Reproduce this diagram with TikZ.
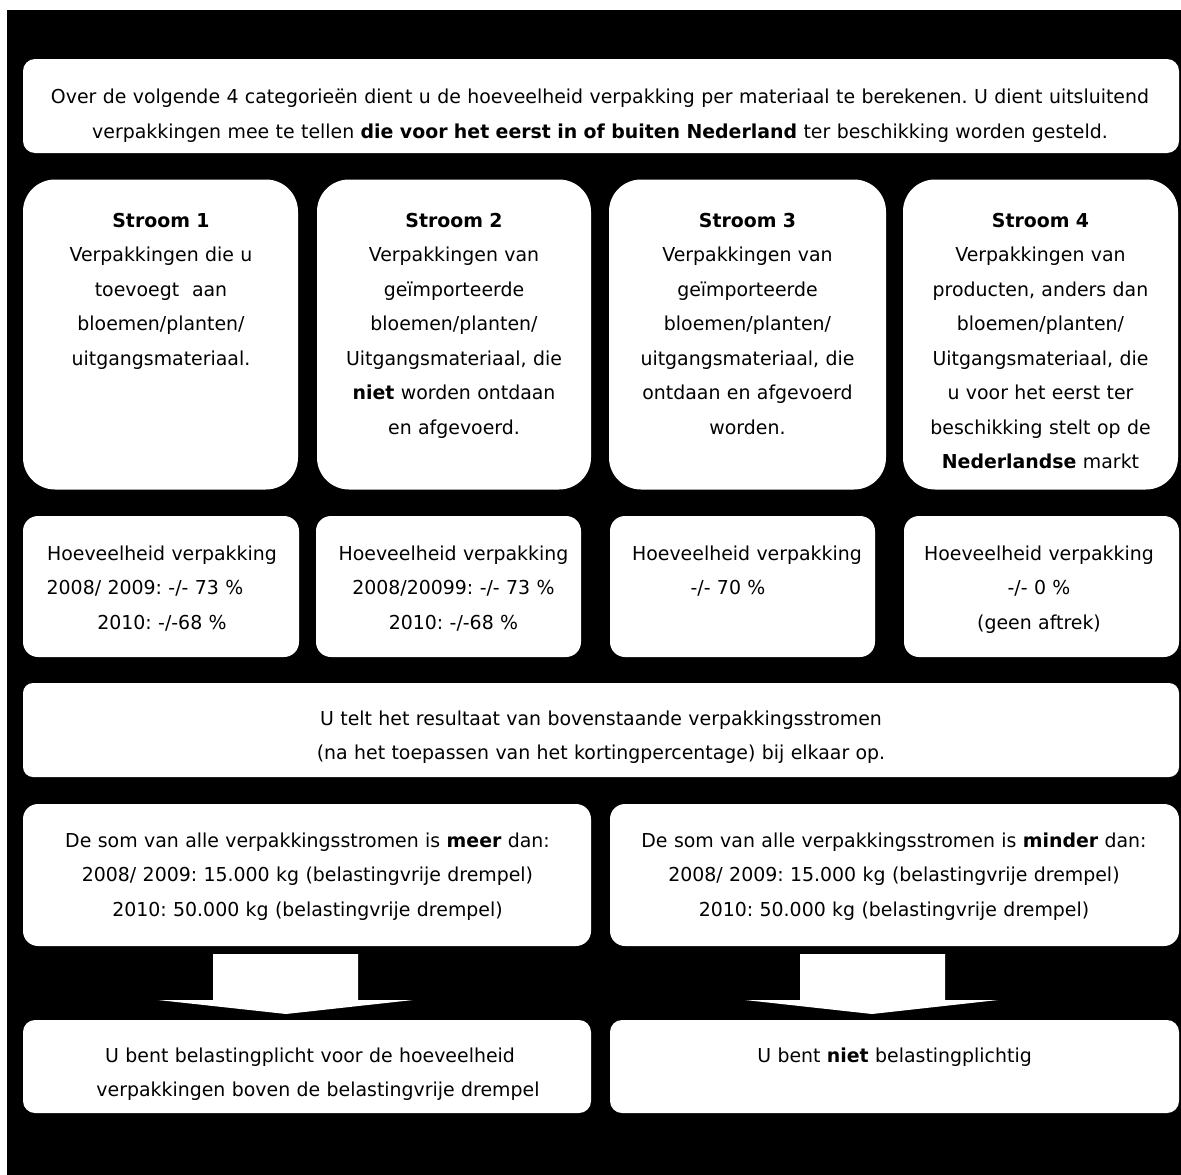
\documentclass[tikz,border=0pt]{standalone}
\usepackage{fontspec}
\setmainfont{DejaVu Sans}[FakeStretch=0.985]
\frenchspacing
\newcommand\fsz{\fontsize{19.2}{34.5}\selectfont\frenchspacing}
\tikzset{
  card/.style={fill=white, draw=none, inner sep=0pt, rounded corners=#1},
  card/.default=12pt,
  txt/.style={anchor=base, inner sep=0pt, align=center, text width=#1, font=\fsz},
  txt/.default=260pt,
  blockarrow/.style={fill=white, draw=none},
}
\begin{document}
\begin{tikzpicture}[x=1pt,y=-1pt]
\useasboundingbox (0,0) rectangle (1181,1175);
\fill[white] (0,0) rectangle (1181,1175);
\fill[black] (7,10) rectangle (1181,1175);

% top box
\node[card=12pt, minimum width=1156pt, minimum height=94pt] (top) at (601,106) {};
\node[txt=1150pt] (topT) at (600,103.5) {Over de volgende 4 categorieën dient u de hoeveelheid verpakking per materiaal te berekenen. U dient uitsluitend\\verpakkingen mee te tellen \textbf{die voor het eerst in of buiten Nederland} ter beschikking worden gesteld.};

% Stroom boxes
\node[card=32pt, minimum width=275pt, minimum height=310pt] (s1) at (160.5,334.5) {};
\node[card=32pt, minimum width=274pt, minimum height=310pt] (s2) at (454,334.5) {};
\node[card=32pt, minimum width=277pt, minimum height=310pt] (s3) at (747.5,334.5) {};
\node[card=32pt, minimum width=275pt, minimum height=310pt] (s4) at (1040.5,334.5) {};

\node[txt] (s1T) at (161,227) {\textbf{Stroom 1}\\Verpakkingen die u\\toevoegt\ \ aan\\bloemen/planten/\\uitgangsmateriaal.};
\node[txt] (s2T) at (454,227) {\textbf{Stroom 2}\\Verpakkingen van\\geïmporteerde\\bloemen/planten/\\Uitgangsmateriaal, die\\\textbf{niet} worden ontdaan\\en afgevoerd.};
\node[txt] (s3T) at (747.5,227) {\textbf{Stroom 3}\\Verpakkingen van\\geïmporteerde\\bloemen/planten/\\uitgangsmateriaal, die\\ontdaan en afgevoerd\\worden.};
\node[txt] (s4T) at (1040.5,227) {\textbf{Stroom 4}\\Verpakkingen van\\producten, anders dan\\bloemen/planten/\\Uitgangsmateriaal, die\\u voor het eerst ter\\beschikking stelt op de\\\textbf{Nederlandse} markt};

% Hoeveelheid boxes
\node[card=15pt, minimum width=276pt, minimum height=141pt] (h1) at (161,586.5) {};
\node[card=15pt, minimum width=265pt, minimum height=141pt] (h2) at (448.5,586.5) {};
\node[card=15pt, minimum width=265pt, minimum height=141pt] (h3) at (742.5,586.5) {};
\node[card=15pt, minimum width=275pt, minimum height=141pt] (h4) at (1041.5,586.5) {};

\node[txt] (h1T) at (162,560) {Hoeveelheid verpakking\\2008/ 2009: -/- 73 \%\hspace*{34pt}\mbox{}\\2010: -/-68 \%};
\node[txt] (h2T) at (453.5,560) {Hoeveelheid verpakking\\2008/20099: -/- 73 \%\\2010: -/-68 \%};
\node[txt] (h3T) at (747,560) {Hoeveelheid verpakking\\-/- 70 \%\hspace*{38pt}\mbox{}};
\node[txt] (h4T) at (1039,560) {Hoeveelheid verpakking\\-/- 0 \%\\(geen aftrek)};

% sum box
\node[card=10pt, minimum width=1156pt, minimum height=94pt] (sum) at (601,730) {};
\node[txt=1100pt] (sumT) at (601,725) {U telt het resultaat van bovenstaande verpakkingsstromen\\(na het toepassen van het kortingpercentage) bij elkaar op.};

% meer / minder boxes
\node[card=15pt, minimum width=568pt, minimum height=142pt] (m1) at (307,875) {};
\node[card=15pt, minimum width=569pt, minimum height=142pt] (m2) at (894.5,875) {};
\node[txt=560pt] (m1T) at (307.5,847) {De som van alle verpakkingsstromen is \textbf{meer} dan:\\2008/ 2009: 15.000 kg (belastingvrije drempel)\\2010: 50.000 kg (belastingvrije drempel)};
\node[txt=560pt] (m2T) at (894,847) {De som van alle verpakkingsstromen is \textbf{minder} dan:\\2008/ 2009: 15.000 kg (belastingvrije drempel)\\2010: 50.000 kg (belastingvrije drempel)};

% result boxes
\node[card=12pt, minimum width=568pt, minimum height=93pt] (r1) at (307,1066.5) {};
\node[card=12pt, minimum width=569pt, minimum height=93pt] (r2) at (894.5,1066.5) {};
\node[txt=560pt] (r1T) at (310,1062) {U bent belastingplicht voor de hoeveelheid\\\hspace*{16pt}verpakkingen boven de belastingvrije drempel};
\node[txt=560pt] (r2T) at (894.5,1062) {U bent \textbf{niet} belastingplichtig};

% block arrows
\fill[blockarrow] (213,954) -- (358,954) -- (358,1000) -- (413,1000) -- (286,1014) -- (158,1000) -- (213,1000) -- cycle;
\fill[blockarrow] (800,954) -- (945,954) -- (945,1000) -- (998,1000) -- (872,1014) -- (745,1000) -- (800,1000) -- cycle;
\end{tikzpicture}
\end{document}
